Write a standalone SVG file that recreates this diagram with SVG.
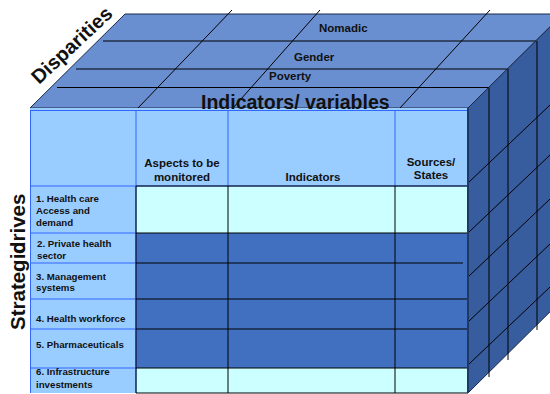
<svg xmlns="http://www.w3.org/2000/svg" width="550" height="394" viewBox="0 0 550 394">
<style>
text{font-family:"Liberation Sans",Arial,sans-serif;font-weight:bold;fill:#111}
.lbl{font-size:9.7px}
.hdr{font-size:11.5px;text-anchor:middle}
.dim{font-size:11.5px}
.ln{stroke:#000;stroke-width:1;fill:none}
.bl{stroke:#3366FF;stroke-width:1;fill:none}
.hd{fill:#99CCFF}
.lt{fill:#CCFFFF}
.dk{fill:#4270C0}
</style>
<rect width="550" height="394" fill="#fff"/>
<g id="top-face">
<polygon points="30,108 125,14 563,14 468,108" fill="#6A8FD0" stroke="#1a2a4a" stroke-width="1"/>
<line class="ln" x1="103" y1="41" x2="537" y2="41"/>
<line class="ln" x1="76" y1="69" x2="508" y2="69"/>
<line class="ln" x1="57" y1="87.5" x2="489" y2="87.5"/>
<line class="ln" x1="138" y1="108" x2="232" y2="10"/>
<line class="ln" x1="233" y1="108" x2="320" y2="10"/>
<line class="ln" x1="400" y1="108" x2="490" y2="10"/>
<text class="dim" x="319" y="32">Nomadic</text>
<text class="dim" x="294" y="61">Gender</text>
<text class="dim" x="269" y="80">Poverty</text>
</g>
<g id="right-face">
<polygon points="468,108 563,14 563,299 468,393" fill="#375D9F" stroke="#1a2a4a" stroke-width="1"/>
<line class="ln" x1="489" y1="87.5" x2="489" y2="377"/>
<line class="ln" x1="508" y1="69" x2="508" y2="360"/>
<line class="ln" x1="537" y1="41" x2="537" y2="330"/>
<line class="ln" x1="468" y1="183" x2="550" y2="105"/>
<line class="ln" x1="468" y1="233" x2="550" y2="155"/>
<line class="ln" x1="468" y1="277" x2="550" y2="199"/>
<line class="ln" x1="468" y1="322" x2="550" y2="244"/>
<line class="ln" x1="468" y1="365" x2="550" y2="287"/>
</g>
<g id="front-face">
<rect class="hd" x="30" y="108" width="438" height="78"/>
<rect class="hd" x="30" y="186" width="106" height="207"/>
<rect class="lt" x="136" y="186" width="332" height="47"/>
<rect class="dk" x="136" y="233" width="332" height="135"/>
<rect class="lt" x="136" y="368" width="332" height="25"/>
<rect class="bl" x="30.5" y="110.5" width="437" height="75.5"/>
<line class="bl" x1="136" y1="110" x2="136" y2="393"/>
<line class="bl" x1="228" y1="110" x2="228" y2="186"/>
<line class="bl" x1="395" y1="110" x2="395" y2="186"/>
<line class="bl" x1="30.5" y1="186" x2="30.5" y2="393"/>
<line class="bl" x1="30" y1="233" x2="136" y2="233"/>
<line class="bl" x1="30" y1="263" x2="136" y2="263"/>
<line class="bl" x1="30" y1="299" x2="136" y2="299"/>
<line class="bl" x1="30" y1="329" x2="136" y2="329"/>
<line class="bl" x1="30" y1="368" x2="136" y2="368"/>
<line class="ln" x1="136" y1="186" x2="468" y2="186"/>
<line class="ln" x1="136" y1="233" x2="468" y2="233"/>
<line class="ln" x1="136" y1="263" x2="463" y2="263"/>
<line class="ln" x1="136" y1="299" x2="468" y2="299" stroke="#1F3864"/>
<line class="ln" x1="136" y1="329" x2="468" y2="329"/>
<line class="ln" x1="136" y1="368" x2="468" y2="368" stroke="#556b5b"/>
<line class="ln" x1="136" y1="393" x2="468" y2="393"/>
<line class="ln" x1="136" y1="186" x2="136" y2="393"/>
<line class="ln" x1="228" y1="186" x2="228" y2="393"/>
<line class="ln" x1="395" y1="186" x2="395" y2="393"/>
<line x1="468" y1="108" x2="468" y2="393" stroke="#1F3864" stroke-width="2"/>
<text class="hdr" x="182" y="167">Aspects to be</text>
<text class="hdr" x="182" y="181">monitored</text>
<text class="hdr" x="313" y="181">Indicators</text>
<text class="hdr" x="431" y="166">Sources/</text>
<text class="hdr" x="431" y="179">States</text>
<text class="lbl" x="36" y="202">1. Health care</text>
<text class="lbl" x="36" y="213.5">Access and</text>
<text class="lbl" x="36" y="225.5">demand</text>
<text class="lbl" x="37" y="247">2. Private health</text>
<text class="lbl" x="37" y="259">sector</text>
<text class="lbl" x="36" y="280">3. Management</text>
<text class="lbl" x="36" y="291">systems</text>
<text class="lbl" x="36" y="322">4. Health workforce</text>
<text class="lbl" x="36" y="348">5. Pharmaceuticals</text>
<text class="lbl" x="36" y="375">6. Infrastructure</text>
<text class="lbl" x="36" y="388">investments</text>
</g>
<g id="titles">
<text x="201" y="108.5" font-size="19.5">Indicators/ variables</text>
<text x="39" y="85" font-size="20" transform="rotate(-43 39 85)">Disparities</text>
<text x="25" y="330" font-size="20.5" transform="rotate(-90 25 330)">Strategic</text>
<text x="25" y="254" font-size="20.5" transform="rotate(-90 25 254)">drives</text>
</g>
</svg>
